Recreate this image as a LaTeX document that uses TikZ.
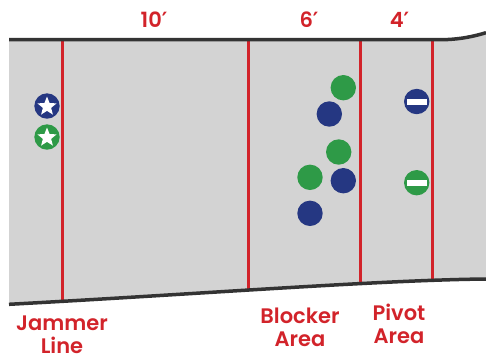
\documentclass[tikz,border=0pt]{standalone}
\usepackage{fontspec}
\setmainfont{Poppins}[BoldFont={Poppins SemiBold}]
\newfontfamily\primefont{DejaVu Sans}
\usetikzlibrary{shapes.geometric}
\definecolor{trackgray}{HTML}{D3D3D3}
\definecolor{edgegray}{HTML}{333333}
\definecolor{lred}{HTML}{D2232A}
\definecolor{navy}{HTML}{253782}
\definecolor{pgreen}{HTML}{2E9A47}
\newcommand{\ftprime}{{\primefont\bfseries ′}}
\tikzset{
  player/.style={circle, minimum size=25.4pt, inner sep=0pt},
  blueP/.style={player, fill=navy},
  greenP/.style={player, fill=pgreen},
  jammer/.style={path picture={\node[star, star points=5, star point ratio=2.3, fill=white, minimum size=20pt, inner sep=0pt] at ([yshift=-0.5pt]path picture bounding box.center) {};}},
  pivot/.style={path picture={\node[rectangle, fill=white, minimum width=20pt, minimum height=6pt, inner sep=0pt] at (path picture bounding box.center) {};}},
  lineline/.style={draw=lred, line width=3pt},
  edge/.style={draw=edgegray, line width=3.5pt},
  lab/.style={text=lred, font=\fontsize{21}{23}\selectfont\bfseries, align=center, inner sep=0pt, anchor=base},
}
\begin{document}
\begin{tikzpicture}[x=1pt, y=-1pt]
\useasboundingbox (0,0) rectangle (486,360);
% track region
\path[fill=trackgray] (9,39.7) -- (440,39.7) .. controls (460,39.7) and (475,36) .. (486,32.7)
  -- (486,279) .. controls (380,280) and (200,294) .. (9,304.3) -- cycle;
\begin{scope}
\clip (9,39.7) -- (440,39.7) .. controls (460,39.7) and (475,36) .. (486,32.7)
  -- (486,279) .. controls (380,280) and (200,294) .. (9,304.3) -- cycle;
\draw[lineline] (62.3,30) -- (62.3,320);
\draw[lineline] (248,30) -- (248,320);
\draw[lineline] (360,30) -- (360,320);
\draw[lineline] (432.5,30) -- (432.5,320);
\end{scope}
\draw[edge] (9,39.7) -- (440,39.7) .. controls (460,39.7) and (475,36) .. (486,32.7);
\draw[edge] (486,279) .. controls (380,280) and (200,294) .. (9,304.3);
% distance labels
\node[lab] (d10) at (154,27.3) {10\ftprime};
\node[lab] (d6) at (309,27.3) {6\ftprime};
\node[lab] (d4) at (399.5,27.3) {4\ftprime};
% bottom labels (anchor = baseline of last line)
\node[lab] (jl) at (62,353.5) {Jammer\\Line};
\node[lab] (ba) at (300,346) {Blocker\\Area};
\node[lab] (pa) at (399,343) {Pivot\\Area};
% jammers
\node[blueP, jammer] (jb) at (47,106) {};
\node[greenP, jammer] (jg) at (47,137) {};
% blockers
\node[greenP] (g1) at (343.3,87.7) {};
\node[blueP] (b1) at (329.3,114) {};
\node[greenP] (g2) at (338.7,152) {};
\node[greenP] (g3) at (310,177.3) {};
\node[blueP] (b2) at (343.3,180.7) {};
\node[blueP] (b3) at (310,213.3) {};
% pivots
\node[blueP, pivot] (pb) at (416.7,101.5) {};
\node[greenP, pivot] (pg) at (416.7,182.7) {};
\end{tikzpicture}
\end{document}
